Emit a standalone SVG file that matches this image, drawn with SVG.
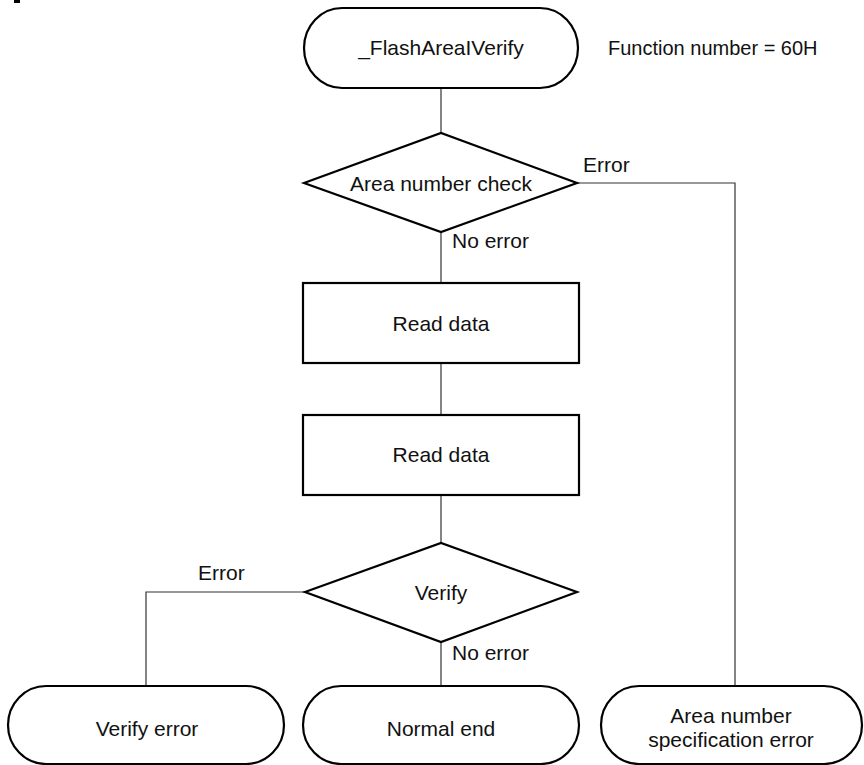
<svg xmlns="http://www.w3.org/2000/svg" width="864" height="765" viewBox="0 0 864 765">
<style>
.shape{fill:#fff;stroke:#000;stroke-width:2.2}
.conn{fill:none;stroke:#333;stroke-width:1.2}
text{font-family:"Liberation Sans",Arial,sans-serif;font-size:21px;fill:#111}
.c{text-anchor:middle}
.note{font-size:20px}
</style>
<rect x="14" y="0" width="6" height="3" fill="#000"/>
<g id="connectors">
<path class="conn" d="M441,88 V133"/>
<path class="conn" d="M441,232 V283"/>
<path class="conn" d="M441,363 V415"/>
<path class="conn" d="M441,495 V543"/>
<path class="conn" d="M441,642 V686"/>
<path class="conn" d="M577,183 H735 V686"/>
<path class="conn" d="M305,592 H146 V686"/>
<text x="583" y="172">Error</text>
<text x="452" y="248">No error</text>
<text x="198" y="580">Error</text>
<text x="452" y="660">No error</text>
</g>
<g id="start">
<rect class="shape" x="304" y="8" width="274" height="80" rx="38" ry="40"/>
<text class="c" x="441" y="55">_FlashAreaIVerify</text>
</g>
<g id="note">
<text class="note" x="608" y="55">Function number = 60H</text>
</g>
<g id="area-check">
<polygon class="shape" points="304,183 441,133 577,183 441,232"/>
<text class="c" x="441" y="191">Area number check</text>
</g>
<g id="read1">
<rect class="shape" x="303" y="283" width="276" height="80"/>
<text class="c" x="441" y="331">Read data</text>
</g>
<g id="read2">
<rect class="shape" x="303" y="415" width="276" height="80"/>
<text class="c" x="441" y="462">Read data</text>
</g>
<g id="verify">
<polygon class="shape" points="305,592 441,543 577,592 441,642"/>
<text class="c" x="441" y="600">Verify</text>
</g>
<g id="verify-error">
<rect class="shape" x="8" y="686" width="276" height="78" rx="38" ry="39"/>
<text class="c" x="147" y="736">Verify error</text>
</g>
<g id="normal-end">
<rect class="shape" x="303" y="686" width="276" height="78" rx="38" ry="39"/>
<text class="c" x="441" y="736">Normal end</text>
</g>
<g id="area-spec-error">
<rect class="shape" x="601" y="686" width="261" height="78" rx="38" ry="39"/>
<text class="c" x="731" y="723">Area number</text>
<text class="c" x="731" y="747">specification error</text>
</g>
</svg>
